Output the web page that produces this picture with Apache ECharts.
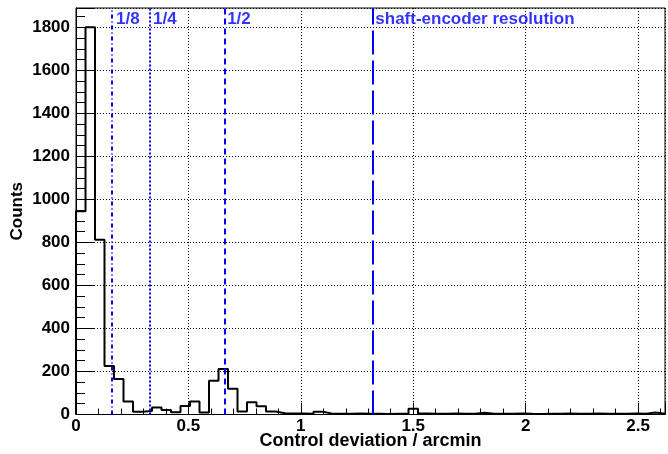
<!DOCTYPE html>
<html>
<head>
<meta charset="utf-8">
<script src="https://cdn.jsdelivr.net/npm/echarts@6/dist/echarts.min.js"></script>
<style>
  html, body { margin: 0; padding: 0; background: #fff; }
  #chart { width: 668px; height: 454px; }
</style>
</head>
<body>
<div id="chart"></div>
<script>
// histogram: 62 bins from 0 to 2.62 arcmin
var xMin = 0;
var xMax = 2.62;
var counts = [
  945, 1800, 812, 225, 165, 60, 13, 16, 32, 21,
  10, 40, 60, 9, 157, 212, 120, 14, 57, 38,
  14, 6, 5, 5, 3, 13, 4, 4, 3, 5,
  4, 3, 2, 4, 3, 27, 5, 3, 4, 5,
  4, 3, 8, 4, 3, 4, 5, 3, 2, 4,
  3, 5, 4, 3, 5, 4, 3, 4, 5, 3,
  9, 4
];
// marker lines (fractions of the shaft-encoder resolution)
var markerNames = ["1/8", "1/4", "1/2", "shaft-encoder resolution"];
var markerValues = [0.1648, 0.3296, 0.659, 1.318];
var markerDash = [[4, 3, 1, 3], [2, 2], [6, 4], [24, 6]];
var labelCount = 1838;

var binWidth = (xMax - xMin) / counts.length;
var stepData = [[xMin, 0]];
for (var i = 0; i < counts.length; i++) {
  stepData.push([xMin + i * binWidth, counts[i]]);
  stepData.push([xMin + (i + 1) * binWidth, counts[i]]);
}

var font = "'Liberation Sans', Arial, Helvetica, sans-serif";

var chart = echarts.init(document.getElementById("chart"));
chart.setOption({
  animation: false,
  backgroundColor: "#fff",
  grid: {
    left: 76, right: 3, top: 8, bottom: 39.5,
    outerBoundsMode: "none",
    containLabel: false,
    show: true, borderColor: "#000", borderWidth: 1
  },
  xAxis: {
    type: "value",
    min: xMin, max: xMax, interval: 0.5,
    name: "Control deviation / arcmin",
    nameLocation: "middle",
    nameGap: 18,
    nameMoveOverlap: false,
    nameTextStyle: { fontFamily: font, fontWeight: "bold", fontSize: 18, color: "#000" },
    axisLine: { show: true, onZero: false, lineStyle: { color: "#000", width: 1 } },
    axisTick: { show: true, inside: true, length: 12, lineStyle: { color: "#000" } },
    minorTick: { show: true, splitNumber: 5, length: 6, lineStyle: { color: "#000" } },
    axisLabel: {
      showMaxLabel: false, margin: 3, color: "#000",
      fontFamily: font, fontWeight: "bold", fontSize: 17
    },
    splitLine: { show: true, lineStyle: { color: "#000", type: [1, 2], width: 1 } }
  },
  yAxis: {
    type: "value",
    min: 0, max: 1890, interval: 200,
    name: "Counts",
    nameLocation: "middle",
    nameGap: 50,
    nameMoveOverlap: false,
    nameTextStyle: { fontFamily: font, fontWeight: "bold", fontSize: 17, color: "#000" },
    axisLine: { show: true, lineStyle: { color: "#000", width: 1 } },
    axisTick: { show: true, inside: true, length: 18, lineStyle: { color: "#000" } },
    minorTick: { show: true, splitNumber: 4, length: 9, lineStyle: { color: "#000" } },
    axisLabel: {
      showMaxLabel: false, margin: 6, color: "#000",
      fontFamily: font, fontWeight: "bold", fontSize: 17,
      formatter: function (v) { return String(v); }
    },
    splitLine: { show: true, lineStyle: { color: "#000", type: [1, 2], width: 1 } }
  },
  series: [
    {
      type: "line",
      data: stepData,
      symbol: "none",
      lineStyle: { color: "#000", width: 2 },
      z: 3,
      markLine: {
        silent: true,
        symbol: "none",
        label: { show: false },
        data: markerValues.map(function (v, k) {
          return {
            xAxis: v,
            lineStyle: { color: "#0000ff", width: 2, type: markerDash[k] }
          };
        })
      }
    },
    {
      type: "scatter",
      symbolSize: 0,
      data: markerValues.map(function (v, k) { return [v, labelCount, markerNames[k]]; }),
      label: {
        show: true,
        position: "right",
        distance: 3,
        formatter: function (p) { return p.data[2]; },
        color: "#0000ff",
        fontFamily: font, fontWeight: "bold", fontSize: 17
      },
      z: 4
    }
  ]
});
</script>
</body>
</html>
